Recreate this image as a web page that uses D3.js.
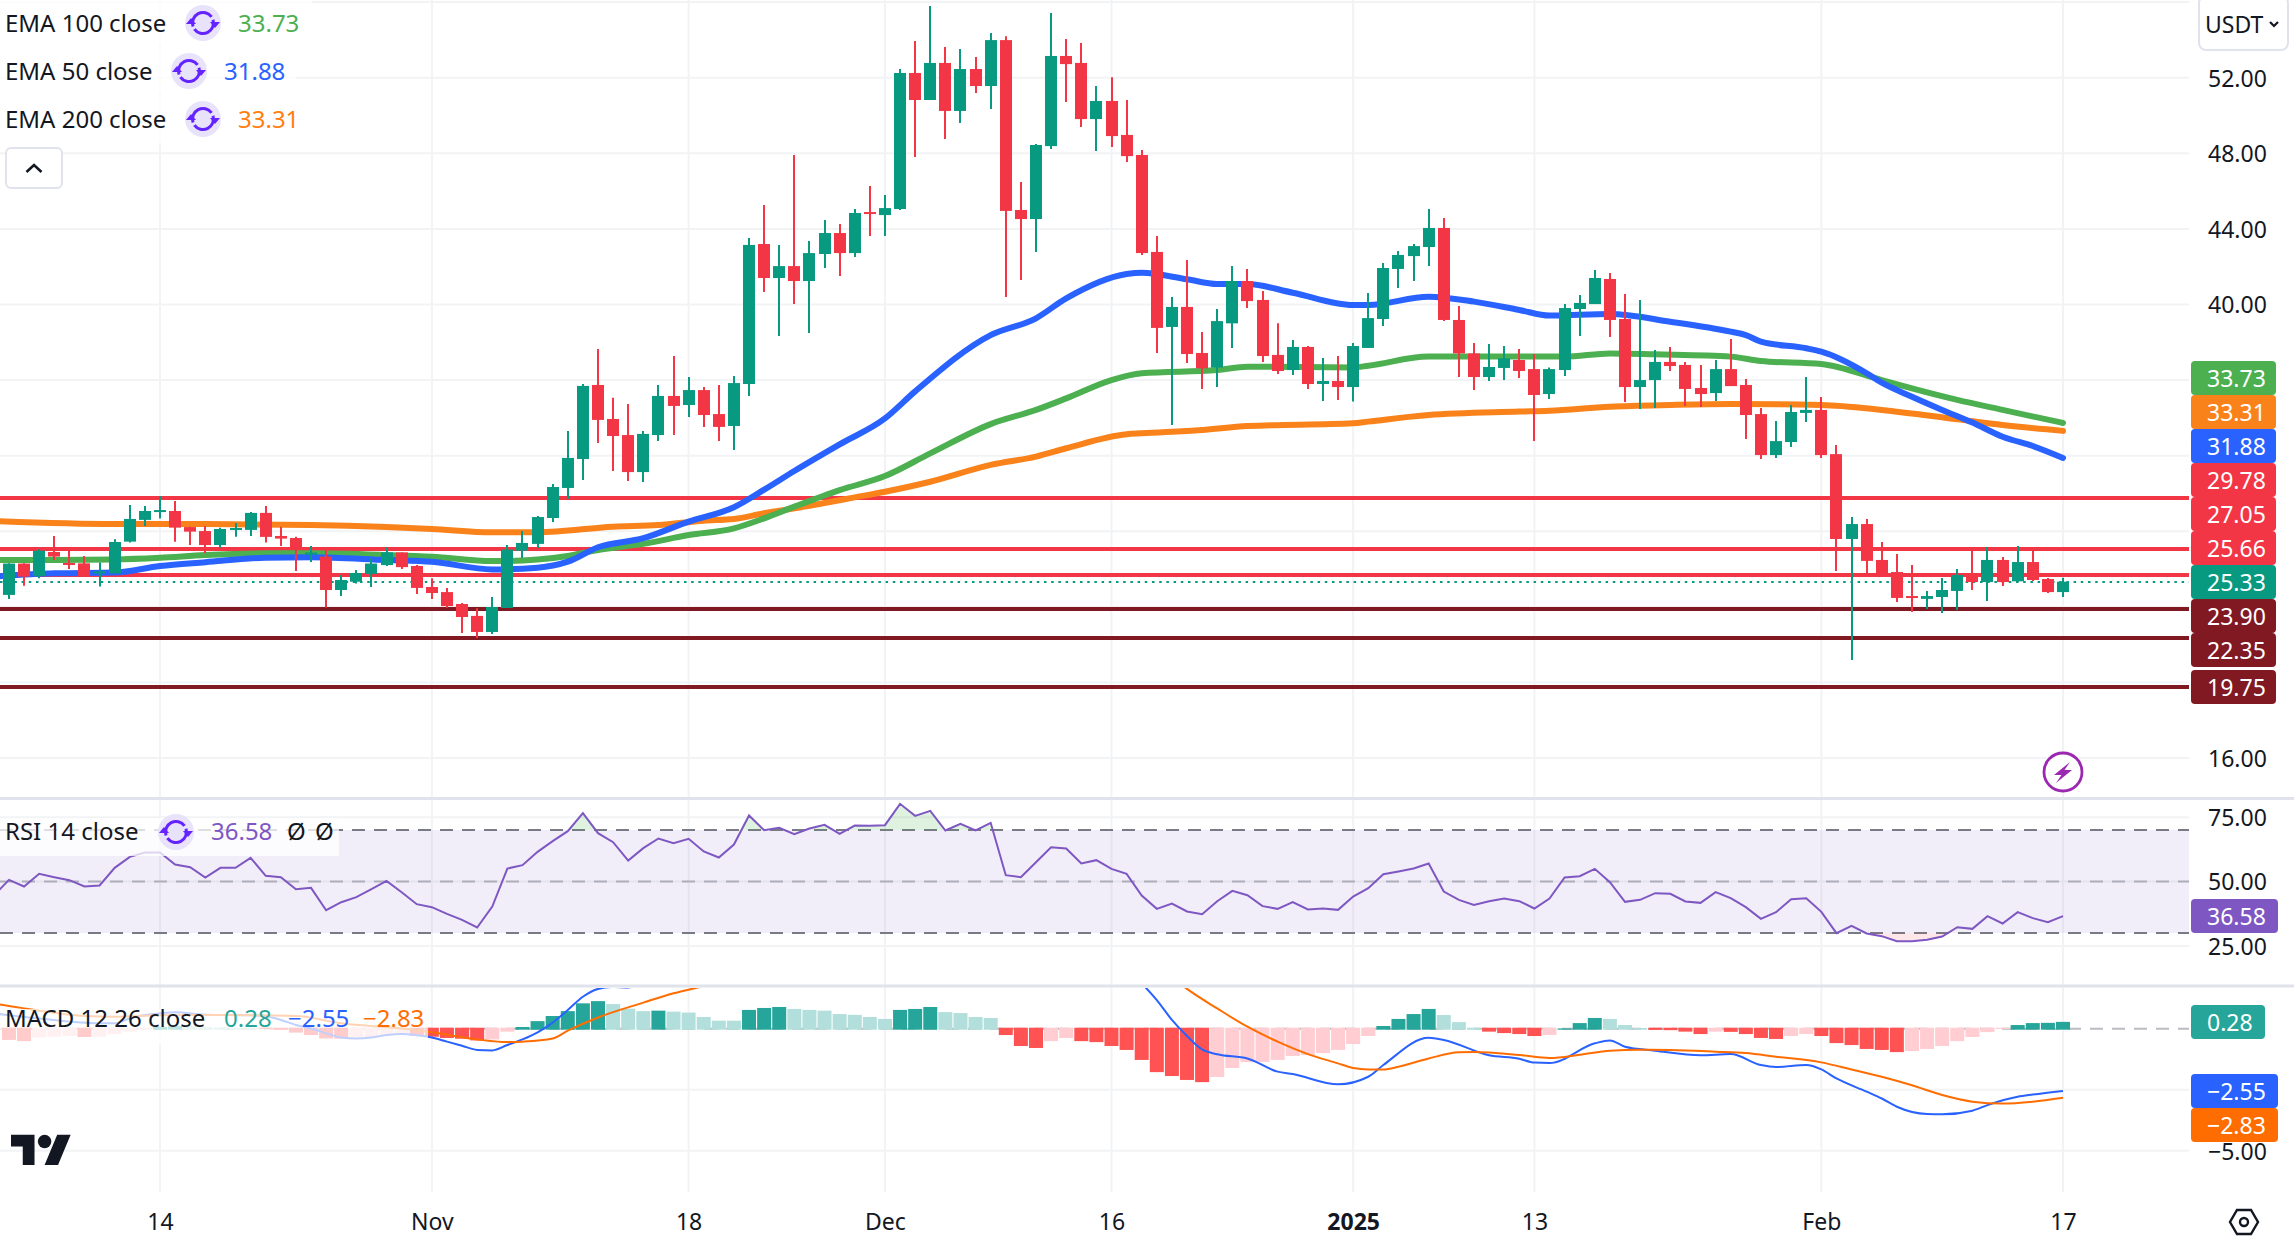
<!DOCTYPE html>
<html><head><meta charset="utf-8">
<script src="https://cdnjs.cloudflare.com/ajax/libs/d3/7.8.5/d3.min.js"></script>
<style>
html,body{margin:0;padding:0;background:#fff}
svg{display:block}
text{font-family:"Noto Sans",sans-serif;font-size:23px;fill:#131722}
</style></head><body>
<svg id="c" width="2294" height="1237"></svg>
<script>
// ---- daily candles, first candle is 10 days before the 14 Oct tick ----
const firstDay = -10;
const opens = [24.63,26.29,25.63,26.90,26.32,26.30,25.77,25.77,27.45,28.60,
29.04,29.07,28.22,28.01,27.27,28.08,28.07,28.97,27.75,27.64,
26.76,26.66,24.89,25.33,25.74,26.21,26.88,26.16,25.05,24.78,
24.15,23.52,22.67,23.94,26.97,27.33,28.70,30.29,31.82,35.74,
33.94,33.09,31.13,33.09,35.16,34.68,35.47,34.20,33.57,35.79,
43.20,41.40,42.03,41.24,42.67,43.78,42.72,44.89,44.73,45.05,
52.25,50.82,52.78,50.24,52.46,51.56,53.99,45.00,44.52,48.38,
53.15,52.78,49.81,50.77,48.97,47.91,42.78,38.81,39.87,37.43,
36.66,39.00,41.24,40.24,37.33,36.53,37.75,35.79,35.95,35.63,
37.70,39.23,41.88,42.56,43.04,44.05,39.18,37.41,36.16,36.64,
37.06,36.58,35.26,36.53,39.76,40.02,41.35,39.23,35.63,36.00,
36.96,36.80,35.58,35.31,36.58,35.74,34.20,32.03,32.72,34.26,
34.42,32.08,27.59,28.38,26.48,25.84,24.57,24.42,24.52,24.84,
25.68,25.31,26.48,25.35,26.37,25.47,24.78];
const highs = [26.30,26.30,27.04,27.75,26.97,26.69,26.34,27.57,29.39,29.34,
29.86,29.60,28.24,28.28,28.19,28.43,29.02,29.34,28.24,27.71,
27.22,27.01,25.68,25.95,26.57,27.15,26.88,26.21,25.51,25.00,
24.20,23.92,24.52,27.27,28.01,28.81,30.50,33.31,35.79,37.64,
35.07,34.73,33.31,35.74,37.27,36.16,35.63,35.74,36.21,43.52,
45.26,43.15,47.91,43.36,44.47,44.26,45.05,46.27,45.79,52.46,
53.94,55.79,53.62,53.52,53.09,54.36,54.20,46.48,48.49,55.42,
54.05,53.83,51.56,52.03,50.82,48.17,43.62,40.39,42.35,38.54,
39.76,42.03,41.88,40.71,39.00,38.12,37.80,37.17,37.27,37.96,
40.61,42.19,42.83,43.20,45.05,44.58,39.92,37.96,37.91,37.80,
37.64,37.38,36.67,40.02,40.50,41.82,41.66,40.55,40.24,37.59,
37.75,36.96,36.80,37.06,38.17,36.05,34.52,33.83,34.68,36.16,
35.10,32.56,28.75,28.65,27.43,26.80,26.21,24.84,25.52,26.00,
27.01,27.17,26.64,27.22,27.01,25.52,25.54];
const lows = [24.42,25.11,25.51,26.48,26.00,25.63,25.07,25.77,27.40,28.28,
28.67,27.45,27.27,26.83,27.13,27.71,27.75,27.40,27.22,25.89,
26.37,23.97,24.57,25.24,25.05,26.16,26.00,24.68,24.42,23.95,
22.62,22.35,22.56,23.94,26.58,27.11,28.49,29.71,30.71,32.67,
31.19,30.66,30.61,32.78,33.09,34.05,33.52,32.78,32.30,35.16,
40.66,38.33,40.02,38.49,41.93,41.51,42.51,43.62,43.62,45.00,
47.80,50.82,48.75,49.60,51.19,50.34,40.39,41.29,42.78,48.23,
50.71,49.39,48.12,48.33,47.54,42.62,37.43,33.62,36.90,35.53,
35.63,37.70,39.81,36.96,36.32,36.27,35.53,34.89,34.95,34.86,
37.70,38.86,40.87,41.24,42.03,39.12,36.16,35.47,35.95,36.00,
36.11,32.77,35.00,36.21,38.33,40.02,38.28,34.84,34.47,34.52,
36.48,34.63,34.57,34.89,35.68,32.88,31.82,31.88,32.46,33.78,
31.88,25.89,21.19,25.74,25.63,24.26,23.73,23.89,23.67,23.83,
24.89,24.31,25.10,25.31,25.37,24.73,24.52];
const closes = [26.29,25.60,26.97,26.66,26.27,25.63,25.88,27.43,28.65,29.07,
29.12,28.19,27.98,27.27,28.12,28.17,28.97,27.70,27.61,27.01,
26.87,24.89,25.42,25.79,26.29,26.88,26.10,25.00,24.73,24.04,
23.46,22.67,23.99,27.03,27.38,28.75,30.34,31.88,35.69,33.89,
33.04,31.13,33.15,35.16,34.63,35.47,34.15,33.52,35.84,43.15,
41.40,42.03,41.24,42.72,43.78,42.72,44.84,44.79,45.10,52.25,
50.82,52.78,50.24,52.46,51.56,53.99,44.95,44.52,48.44,53.15,
52.72,49.81,50.77,48.91,47.85,42.72,38.76,39.87,37.38,36.62,
39.12,41.24,40.18,37.27,36.48,37.75,35.79,35.95,35.63,37.80,
39.28,41.93,42.62,43.09,44.05,39.18,37.41,36.16,36.69,37.15,
36.48,35.21,36.58,39.81,40.08,41.40,39.18,35.63,36.00,36.96,
36.74,35.53,35.26,36.58,35.68,34.15,32.03,32.77,34.31,34.42,
32.03,27.59,28.38,26.43,25.79,24.47,24.47,24.57,24.89,25.68,
25.31,26.48,25.31,26.37,25.42,24.78,25.33];

// ---- EMAs, sampled at the days where the curve visibly bends ----
const ema50Days = [-11,-7,-3,0,3,7,10,15,18,22,25,27,29,32,35,38,40,42,45,48,50,55,58,60,64,65,68,70,72,75,79,80,84,87,90,92,96,100,104,105,106,109,110,113,114,116,118,120,122,124,126];
const ema50Vals = [25.6,25.77,25.81,26.16,26.36,26.6,26.62,26.48,26.39,25.98,26.07,26.39,27.15,27.63,28.51,29.27,30.2,31.19,32.6,33.97,35.4,38.38,39.27,40.32,41.61,41.68,41.33,41.08,41.08,40.62,39.97,39.97,40.41,40.15,39.71,39.41,39.5,39.09,38.56,38.38,38.03,37.68,37.5,36.36,35.86,35.12,34.42,33.75,33.0,32.51,31.88];
const ema100Days = [-11,-7,-3,0,3,7,10,15,18,22,25,27,29,32,35,38,40,42,45,48,51,55,58,60,63,65,70,72,79,80,84,90,93,96,99,104,106,110,114,116,119,122,126];
const ema100Vals = [26.48,26.48,26.51,26.6,26.74,26.83,26.83,26.74,26.65,26.42,26.51,26.69,27.01,27.33,27.8,28.15,28.68,29.3,30.18,30.92,32.12,33.67,34.42,35.03,36.0,36.36,36.53,36.71,36.67,36.76,37.24,37.24,37.24,37.41,37.36,37.24,37.01,36.85,36.0,35.56,34.95,34.42,33.73];
const ema200Days = [-11,-3,3,10,15,18,22,25,30,33,36,38,40,42,46,48,51,55,58,60,64,65,69,72,79,80,84,90,92,96,100,104,110,114,119,122,126];
const ema200Vals = [28.54,28.38,28.38,28.33,28.22,28.12,27.94,27.94,28.24,28.33,28.56,28.65,28.95,29.21,29.79,30.09,30.62,31.51,31.95,32.39,33.13,33.18,33.36,33.57,33.71,33.8,34.15,34.33,34.38,34.59,34.68,34.73,34.68,34.42,33.92,33.62,33.31];

// ---- RSI, one value per day from day -11 ----
const rsiFirstDay = -11;
const rsiVals = [44.56,50.64,48.05,52.97,51.68,50.51,48.05,48.44,55.3,59.58,61.26,
61.26,56.6,55.56,51.55,55.3,55.3,59.19,52.2,51.68,47.02,
47.54,38.86,41.97,43.91,47.02,50.26,45.85,41.19,40.03,37.44,
35.11,32.13,40.29,55.04,56.34,61.52,65.66,69.54,76.53,68.77,
65.27,58.15,62.94,66.7,64.88,66.57,61.65,59.32,64.37,75.63,
69.93,70.84,68.38,70.58,72.0,68.51,71.74,71.61,71.87,80.16,
75.5,77.44,69.8,72.39,69.8,72.78,52.46,51.68,57.5,63.33,
62.81,56.99,58.28,54.92,52.97,44.56,39.38,41.45,38.35,37.31,
42.36,46.37,44.69,40.42,39.38,41.97,39.12,39.51,38.99,44.17,
47.41,52.84,53.88,55.04,56.99,46.11,42.88,40.93,42.36,43.4,
42.36,39.51,43.4,51.55,52.07,54.92,49.74,42.1,42.88,45.47,
45.21,42.23,41.71,45.85,43.52,40.03,35.5,38.09,43.14,43.52,
38.22,29.93,32.78,29.8,28.77,26.83,26.83,27.34,28.64,32.26,
31.61,36.53,33.69,38.09,35.76,34.2,36.58];

// ---- MACD ----
const histFirstDay = -10;
const histVals = [-.46,-.51,-.36,-.33,-.30,-.34,-.33,-.22,-.12,-.03,
.08,.11,.11,.07,.05,.04,.03,-.01,-.05,-.16,
-.26,-.40,-.41,-.37,-.36,-.30,-.22,-.30,-.33,-.38,
-.41,-.48,-.44,-.12,.07,.31,.52,.72,1.04,1.13,
1.01,.82,.72,.74,.70,.66,.48,.33,.33,.77,
.85,.89,.81,.77,.74,.60,.57,.48,.40,.77,
.81,.89,.68,.64,.48,.44,-.26,-.71,-.79,-.51,
-.38,-.51,-.55,-.71,-.87,-1.28,-1.78,-1.94,-2.10,-2.19,
-1.98,-1.61,-1.37,-1.36,-1.28,-1.12,-1.08,-1.0,-.87,-.63,
-.30,.11,.40,.60,.81,.56,.27,.04,-.12,-.18,
-.22,-.30,-.26,.01,.23,.44,.40,.15,.03,-.05,
-.06,-.12,-.22,-.12,-.13,-.22,-.38,-.42,-.30,-.22,
-.30,-.59,-.67,-.83,-.87,-.96,-.92,-.83,-.71,-.51,
-.34,-.14,-.01,.15,.23,.24,.28];
const macdDays = [-11,-10,-8,-6,-4,-3,-2,-1,0,1,3,6,7,8,9,10,11,12,13,14,15,16,17,18,19,20,21,22,23,24,25,26,27,28,29,30,31,32,36,44,50,56,60,64,65,66,67,68,69,70,72,74,75,78,80,81,84,85,88,90,91,92,95,96,97,99,102,104,106,107,109,110,111,113,114,115,117,118,120,121,123,124,126];
const macdVals = [.63,.55,.42,.29,.22,.22,.42,.56,.63,.67,.57,.55,.51,.36,.15,.01,-.19,-.36,-.40,-.36,-.26,-.22,-.27,-.36,-.53,-.70,-.87,-.89,-.67,-.44,-.15,.25,.77,1.31,1.63,1.71,1.69,1.86,3.2,5,6,5.6,4.3,2.5,1.86,1.17,.36,-.30,-.85,-1.05,-1.22,-1.76,-1.86,-2.28,-1.97,-1.49,-.37,-.46,-1.09,-1.23,-1.39,-1.41,-.60,-.48,-.74,-.90,-1.09,-1.04,-1.49,-1.57,-1.49,-1.67,-2.04,-2.58,-2.86,-3.20,-3.50,-3.51,-3.36,-3.13,-2.79,-2.70,-2.55];
const signalDays = [-11,-8,-5,-3,0,4,9,12,16,18,21,23,24,26,27,29,32,34,36,38,40,44,48,52,56,60,64,68,70,72,74,76,78,79,80,81,82,84,86,87,90,92,94,96,98,100,103,105,107,110,112,114,116,118,120,122,124,126];
const signalVals = [1.03,.74,.52,.49,.55,.56,.52,.22,.01,-.15,-.44,-.55,-.53,-.40,-.08,.46,1.07,1.45,1.75,2.13,2.6,3.6,4.3,4.9,5.3,5.1,3.9,1.63,.83,.08,-.53,-1.04,-1.42,-1.61,-1.67,-1.67,-1.56,-1.22,-.97,-.96,-1.08,-1.20,-1.07,-.90,-.86,-.87,-.94,-1.0,-1.15,-1.38,-1.67,-1.97,-2.32,-2.72,-2.99,-3.07,-2.99,-2.83];

// ---- horizontal levels ----
const resistanceLevels = [29.78,27.05,25.66];
const supportLevels = [23.90,22.35,19.75];
const lastPrice = 25.33;
const priceTicks = [56,52,48,44,40,36,32,28,24,20,16];
const priceTickLabels = [52,48,44,40,16];
const rsiTicks = [75,50,25];
const rsiBands = [70,50,30];
const macdTicks = [-2.5,-5];
const timeTickDays = [0,18,35,48,63,79,91,110,126];
const timeTickLabels = ["14","Nov","18","Dec","16","2025","13","Feb","17"];
const legendRows = [["EMA 100 close","33.73","#4caf50"],["EMA 50 close","31.88","#2962ff"],["EMA 200 close","33.31","#ff7f0e"]];

// ---- layout ----
const W = 2294, H = 1237, paneR = 2189;
const up = "#089981", down = "#f23645", darkRed = "#801922", grid = "#f2f3f5", sep = "#e0e3eb", ink = "#131722";
const cEma100 = "#4caf50", cEma50 = "#2962ff", cEma200 = "#f9821a", cRsi = "#7e57c2", cMacd = "#2962ff", cSignal = "#ff6d00";

const svg = d3.select("#c");
const x = d3.scaleLinear().domain([0,126]).range([160,2063]);
const y = d3.scaleLinear().domain([52,16]).range([77.7,758]);
const yR = d3.scaleLinear().domain([70,30]).range([830,933]);
const yM = d3.scaleLinear().domain([0,-5]).range([1028.7,1150.7]);

const defs = svg.append("defs");
defs.append("clipPath").attr("id","pPrice").append("rect").attr("x",0).attr("y",0).attr("width",paneR).attr("height",797);
defs.append("clipPath").attr("id","pRsi").append("rect").attr("x",0).attr("y",800).attr("width",paneR).attr("height",185);
defs.append("clipPath").attr("id","pMacd").append("rect").attr("x",0).attr("y",988).attr("width",paneR).attr("height",204);
defs.append("clipPath").attr("id","above70").append("rect").attr("x",0).attr("y",800).attr("width",paneR).attr("height",yR(70)-800);
defs.append("clipPath").attr("id","below30").append("rect").attr("x",0).attr("y",yR(30)).attr("width",paneR).attr("height",50);

const g = svg.append("g");

// ---- grid ----
g.append("g").selectAll("line").data(timeTickDays).join("line")
  .attr("x1",d=>x(d)).attr("x2",d=>x(d)).attr("y1",0).attr("y2",1192)
  .attr("stroke",grid).attr("stroke-width",2);
const hgrid = (vals,s)=>g.append("g").selectAll("line").data(vals).join("line")
  .attr("x1",0).attr("x2",paneR).attr("y1",d=>s(d)).attr("y2",d=>s(d))
  .attr("stroke",grid).attr("stroke-width",2);
hgrid(priceTicks,y); hgrid(rsiTicks,yR); hgrid(macdTicks,yM);

// ---- separators ----
[798.5,986].forEach(v=>g.append("line").attr("x1",0).attr("x2",W).attr("y1",v).attr("y2",v).attr("stroke",sep).attr("stroke-width",3));

// ---- price pane ----
const price = g.append("g").attr("clip-path","url(#pPrice)");
const hl = (v,c)=>price.append("line").attr("x1",0).attr("x2",paneR).attr("y1",Math.round(y(v))).attr("y2",Math.round(y(v))).attr("stroke",c).attr("stroke-width",4);
resistanceLevels.forEach(v=>hl(v,down));
supportLevels.forEach(v=>hl(v,darkRed));
price.append("line").attr("x1",0).attr("x2",paneR).attr("y1",Math.round(y(lastPrice))).attr("y2",Math.round(y(lastPrice)))
  .attr("stroke",up).attr("stroke-width",2).attr("stroke-dasharray","2.5 4.7");

const emaLine = d3.line().x(d=>x(d[0])).y(d=>y(d[1])).curve(d3.curveMonotoneX);
[[ema200Days,ema200Vals,cEma200],[ema100Days,ema100Vals,cEma100],[ema50Days,ema50Vals,cEma50]].forEach(([ds,vs,c])=>{
  price.append("path").attr("d",emaLine(ds.map((d,i)=>[d,vs[i]])))
    .attr("fill","none").attr("stroke",c).attr("stroke-width",6).attr("stroke-linejoin","round").attr("stroke-linecap","round");
});

const candles = opens.map((o,i)=>({d:firstDay+i,o,h:highs[i],l:lows[i],c:closes[i]}));
const cg = price.append("g");
cg.selectAll("line").data(candles).join("line")
  .attr("x1",d=>Math.round(x(d.d))).attr("x2",d=>Math.round(x(d.d)))
  .attr("y1",d=>y(d.h)).attr("y2",d=>y(d.l))
  .attr("stroke",d=>d.c>=d.o?up:down).attr("stroke-width",2);
cg.selectAll("rect").data(candles).join("rect")
  .attr("x",d=>Math.round(x(d.d))-6).attr("width",12)
  .attr("y",d=>y(Math.max(d.o,d.c))).attr("height",d=>Math.max(2,Math.abs(y(d.o)-y(d.c))))
  .attr("fill",d=>d.c>=d.o?up:down);

// lightning badge
const b = g.append("g").attr("transform","translate(2063,772)");
b.append("circle").attr("r",19).attr("fill","#fff").attr("stroke","#9c27b0").attr("stroke-width",2.8);
b.append("path").attr("d","M7 -10 L-9 3 L-1.5 3 L-7 11 L9 -2 L1.5 -2 Z").attr("fill","#9c27b0");

// ---- RSI pane ----
const rsi = g.append("g").attr("clip-path","url(#pRsi)");
rsi.append("rect").attr("x",0).attr("width",paneR).attr("y",yR(70)).attr("height",yR(30)-yR(70)).attr("fill","rgba(126,87,194,0.1)");
rsiBands.forEach(v=>rsi.append("line").attr("x1",0).attr("x2",paneR).attr("y1",yR(v)).attr("y2",yR(v))
  .attr("stroke","#787b86").attr("stroke-width",2).attr("stroke-dasharray","13 9").attr("opacity",v===50?0.5:1));
const rsiData = rsiVals.map((v,i)=>[rsiFirstDay+i,v]);
rsi.append("path").attr("clip-path","url(#above70)")
  .attr("d",d3.area().x(d=>x(d[0])).y0(yR(70)).y1(d=>yR(d[1]))(rsiData)).attr("fill","rgba(76,175,80,0.18)");
rsi.append("path").attr("clip-path","url(#below30)")
  .attr("d",d3.area().x(d=>x(d[0])).y0(yR(30)).y1(d=>yR(d[1]))(rsiData)).attr("fill","rgba(242,54,69,0.12)");
rsi.append("path").attr("d",d3.line().x(d=>x(d[0])).y(d=>yR(d[1]))(rsiData))
  .attr("fill","none").attr("stroke",cRsi).attr("stroke-width",2);

// ---- MACD pane ----
const macd = g.append("g").attr("clip-path","url(#pMacd)");
macd.append("line").attr("x1",0).attr("x2",paneR).attr("y1",yM(0)).attr("y2",yM(0))
  .attr("stroke","#787b86").attr("stroke-width",2).attr("stroke-dasharray","13 9").attr("opacity",0.5);
macd.append("g").selectAll("rect").data(histVals.map((v,i)=>({d:histFirstDay+i,v,p:i?histVals[i-1]:v}))).join("rect")
  .attr("x",d=>x(d.d)-7).attr("width",14)
  .attr("y",d=>d.v>=0?yM(d.v):yM(0)-1).attr("height",d=>Math.abs(yM(d.v)-yM(0))+1)
  .attr("fill",d=>d.v>=0?(d.p<d.v?"#26a69a":"#b2dfdb"):(d.p<d.v?"#ffcdd2":"#ff5252"));
const mLine = d3.line().x(d=>x(d[0])).y(d=>yM(d[1])).curve(d3.curveMonotoneX);
macd.append("path").attr("d",mLine(macdDays.map((d,i)=>[d,macdVals[i]]))).attr("fill","none").attr("stroke",cMacd).attr("stroke-width",2);
macd.append("path").attr("d",mLine(signalDays.map((d,i)=>[d,signalVals[i]]))).attr("fill","none").attr("stroke",cSignal).attr("stroke-width",2);

// ---- axes ----
const yAxis = (s,vals,fmt)=>{
  const a = g.append("g").attr("transform",`translate(${paneR},1)`)
    .call(d3.axisRight(s).tickValues(vals).tickSize(0).tickPadding(19).tickFormat(fmt));
  a.select(".domain").remove();
  a.selectAll("text").style("font-family",'"Noto Sans",sans-serif').style("font-size","23px").style("fill",ink);
};
const f2 = v=>d3.format(".2f")(v).replace("-","\u2212");
yAxis(y,priceTickLabels,f2);
yAxis(yR,rsiTicks,f2);
yAxis(yM,[-5],f2);

const tAxis = g.append("g").attr("transform","translate(0,1194)")
  .call(d3.axisBottom(x).tickValues(timeTickDays).tickSize(0).tickPadding(20)
    .tickFormat((d,i)=>timeTickLabels[i]));
tAxis.select(".domain").remove();
tAxis.selectAll("text").style("font-family",'"Noto Sans",sans-serif').style("font-size","23px").style("fill",ink)
  .style("font-weight",d=>d===79?"700":"400");

// ---- value pills ----
const pill = (top,h,w,label,fill)=>{
  g.append("rect").attr("x",2191).attr("y",top).attr("width",w).attr("height",h).attr("rx",4).attr("fill",fill);
  g.append("text").attr("x",2207).attr("y",top+h/2+8.5).text(label).style("fill","#fff");
};
const pricePills = [["33.73",cEma100],["33.31",cEma200],["31.88",cEma50],["29.78",down],["27.05",down],["25.66",down],["25.33",up],["23.90",darkRed],["22.35",darkRed]];
pricePills.forEach((p,i)=>pill(361+i*34,34,85,p[0],p[1]));
pill(670,34,85,"19.75",darkRed);
pill(899,34,87,"36.58",cRsi);
pill(1005,34,74,"0.28","#26a69a");
pill(1074,34,87,"\u22122.55",cMacd);
pill(1108,34,87,"\u22122.83",cSignal);

// ---- legends ----
const syncIcon = (cx,cy)=>{
  const s = g.append("g").attr("transform",`translate(${cx},${cy})`);
  s.append("circle").attr("r",18).attr("fill","#e9e2fb");
  const arc = d3.arc().innerRadius(9).outerRadius(12);
  s.append("path").attr("d",arc({startAngle:-1.9,endAngle:0.95})).attr("fill","#6423ff");
  s.append("path").attr("d",arc({startAngle:1.25,endAngle:4.1})).attr("fill","#6423ff");
  s.append("path").attr("d","M7 -1 L17 -1 L12 5 Z").attr("fill","#6423ff");
  s.append("path").attr("d","M-7 1 L-17 1 L-12 -5 Z").attr("fill","#6423ff");
};
const legendEnds = [312,296,312];
legendRows.forEach((r,i)=>{
  const ty = 32+48*i, cy = 23+48*i;
  g.append("rect").attr("x",0).attr("y",i*48).attr("width",legendEnds[i]).attr("height",47).attr("fill","rgba(255,255,255,0.75)");
  g.append("text").attr("x",5).attr("y",ty).style("font-size","24px").text(r[0]);
  const cx = i===1?189:203, vx = i===1?224:238;
  syncIcon(cx,cy);
  g.append("text").attr("x",vx).attr("y",ty).style("font-size","24px").style("fill",r[2]).text(r[1]);
});
// collapse button
g.append("rect").attr("x",6).attr("y",148).attr("width",56).attr("height",40).attr("rx",5).attr("fill","#fff").attr("stroke",sep).attr("stroke-width",2);
g.append("path").attr("d","M26.5 172 L34 165 L41.5 172").attr("fill","none").attr("stroke",ink).attr("stroke-width",2.6);

// RSI legend
g.append("rect").attr("x",0).attr("y",818).attr("width",339).attr("height",38).attr("fill","rgba(255,255,255,0.75)");
g.append("text").attr("x",5).attr("y",840).style("font-size","24px").text("RSI 14 close");
syncIcon(176,832);
g.append("text").attr("x",211).attr("y",840).style("font-size","24px").style("fill",cRsi).text("36.58");
g.append("text").attr("x",287).attr("y",840).style("font-size","24px").text("\u00d8");
g.append("text").attr("x",315).attr("y",840).style("font-size","24px").text("\u00d8");

// MACD legend
g.append("rect").attr("x",0).attr("y",1009).attr("width",428).attr("height",36).attr("fill","rgba(255,255,255,0.7)");
g.append("text").attr("x",5).attr("y",1027).style("font-size","24px").text("MACD 12 26 close");
g.append("text").attr("x",224).attr("y",1027).style("font-size","24px").style("fill","#26a69a").text("0.28");
g.append("text").attr("x",288).attr("y",1027).style("font-size","24px").style("fill",cMacd).text("\u22122.55");
g.append("text").attr("x",363).attr("y",1027).style("font-size","24px").style("fill",cSignal).text("\u22122.83");

// USDT button
g.append("rect").attr("x",2199).attr("y",-4).attr("width",89).attr("height",54).attr("rx",7).attr("fill","#fff").attr("stroke",sep).attr("stroke-width",2);
g.append("text").attr("x",2205).attr("y",33).text("USDT");
g.append("path").attr("d","M2270 22 L2274 26 L2278 22").attr("fill","none").attr("stroke",ink).attr("stroke-width",2.2);

// logo
g.append("g").attr("transform","translate(11,1128) scale(1.68)").call(l=>{
  l.append("path").attr("d","M14 22H7V11H0V4h14v18zM28 22h-8l7.5-18h8L28 22z").attr("fill",ink);
  l.append("circle").attr("cx",20).attr("cy",8).attr("r",4).attr("fill",ink);
});

// settings icon
g.append("path").attr("transform","translate(2244,1222)").attr("d","M-7 -12 L7 -12 L14 0 L7 12 L-7 12 L-14 0 Z").attr("fill","none").attr("stroke",ink).attr("stroke-width",2.4);
g.append("circle").attr("cx",2244).attr("cy",1222).attr("r",4).attr("fill","none").attr("stroke",ink).attr("stroke-width",2.4);
</script></body></html>
